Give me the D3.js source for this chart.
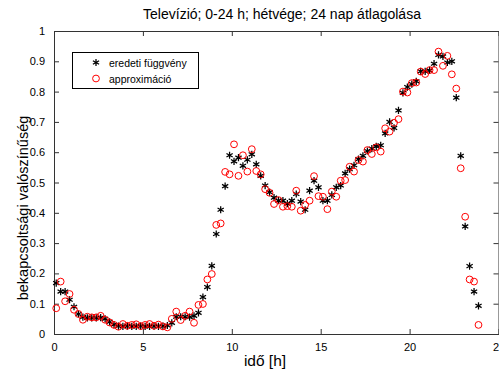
<!DOCTYPE html>
<html>
<head>
<meta charset="utf-8">
<script src="https://cdn.jsdelivr.net/npm/d3@7"></script>
<style>
  html, body { margin: 0; padding: 0; background: #fff; }
  text { font-family: "Liberation Sans", Arial, sans-serif; fill: #000; }
</style>
</head>
<body>
<div id="viz"></div>
<script>
// time of day [h] for each sample (15 min steps)
const hours = [
  0.125, 0.375, 0.625, 0.875, 1.125, 1.375, 1.625, 1.875, 2.125, 2.375, 2.625, 2.875,
  3.125, 3.375, 3.625, 3.875, 4.125, 4.375, 4.625, 4.875, 5.125, 5.375, 5.625, 5.875,
  6.125, 6.375, 6.625, 6.875, 7.125, 7.375, 7.625, 7.875, 8.125, 8.375, 8.625, 8.875,
  9.125, 9.375, 9.625, 9.875, 10.125, 10.375, 10.625, 10.875, 11.125, 11.375, 11.625, 11.875,
  12.125, 12.375, 12.625, 12.875, 13.125, 13.375, 13.625, 13.875, 14.125, 14.375, 14.625, 14.875,
  15.125, 15.375, 15.625, 15.875, 16.125, 16.375, 16.625, 16.875, 17.125, 17.375, 17.625, 17.875,
  18.125, 18.375, 18.625, 18.875, 19.125, 19.375, 19.625, 19.875, 20.125, 20.375, 20.625, 20.875,
  21.125, 21.375, 21.625, 21.875, 22.125, 22.375, 22.625, 22.875, 23.125, 23.375, 23.625, 23.875
];

// eredeti függvény (black asterisks)
const eredeti = [
  0.168, 0.14, 0.14, 0.113, 0.09, 0.066, 0.056, 0.053, 0.053, 0.053, 0.054, 0.05,
  0.04, 0.031, 0.026, 0.025, 0.026, 0.025, 0.025, 0.026, 0.025, 0.025, 0.026, 0.025,
  0.026, 0.028, 0.037, 0.057, 0.057, 0.057, 0.056, 0.06, 0.07, 0.122, 0.155, 0.225,
  0.33, 0.41, 0.488, 0.59, 0.57, 0.582, 0.555, 0.575, 0.593, 0.56, 0.522, 0.49,
  0.468, 0.45, 0.44, 0.44, 0.43, 0.44, 0.462, 0.437, 0.41, 0.473, 0.506, 0.484,
  0.44, 0.44, 0.459, 0.484, 0.49, 0.53, 0.544, 0.557, 0.577, 0.588, 0.604, 0.612,
  0.619, 0.623, 0.662, 0.70, 0.68, 0.738, 0.796, 0.815, 0.825, 0.834, 0.867, 0.867,
  0.87, 0.892, 0.921, 0.916, 0.896, 0.90, 0.78, 0.588, 0.355, 0.224, 0.14, 0.093
];

// approximáció (red circles)
const approx = [
  0.085, 0.173, 0.108, 0.132, 0.08, 0.066, 0.047, 0.057, 0.055, 0.055, 0.06, 0.047,
  0.038, 0.03, 0.024, 0.033, 0.027, 0.03, 0.032, 0.026, 0.03, 0.033, 0.027, 0.031,
  0.025, 0.022, 0.05, 0.074, 0.046, 0.06, 0.074, 0.037, 0.096, 0.099, 0.18, 0.198,
  0.36, 0.365, 0.535, 0.527, 0.626, 0.522, 0.59, 0.536, 0.61, 0.538, 0.527, 0.478,
  0.466, 0.429, 0.442, 0.42, 0.422, 0.42, 0.473, 0.407, 0.426, 0.44, 0.521, 0.455,
  0.453, 0.412, 0.47, 0.453, 0.506, 0.508, 0.552, 0.536, 0.574, 0.569, 0.607, 0.594,
  0.616, 0.602, 0.679, 0.668, 0.697, 0.709, 0.8, 0.797, 0.828, 0.83, 0.866, 0.858,
  0.871, 0.871, 0.932, 0.885, 0.918, 0.857, 0.81, 0.547, 0.387, 0.18, 0.173, 0.03
];

const xTicks = [0, 5, 10, 15, 20, 25];
const yTicks = [0, 0.1, 0.2, 0.3, 0.4, 0.5, 0.6, 0.7, 0.8, 0.9, 1];
const yTickLabels = ["0", "0.1", "0.2", "0.3", "0.4", "0.5", "0.6", "0.7", "0.8", "0.9", "1"];
const seriesNames = ["eredeti függvény", "approximáció"];

const width = 499;
const height = 371;
const plotLeft = 54, plotRight = 498.5, plotTop = 31, plotBottom = 334;

const svg = d3.select("#viz").append("svg")
    .attr("width", width)
    .attr("height", height);

const x = d3.scaleLinear().domain([0, 25]).range([plotLeft, plotRight]);
const y = d3.scaleLinear().domain([0, 1]).range([plotBottom, plotTop]);

const axisColor = "#333";

// axes with inward ticks, box on
const gx = svg.append("g")
    .attr("transform", `translate(0,${plotBottom})`)
    .call(d3.axisBottom(x).tickValues(xTicks).tickSizeInner(-5).tickSizeOuter(0).tickPadding(9));
const gxTop = svg.append("g")
    .attr("transform", `translate(0,${plotTop})`)
    .call(d3.axisTop(x).tickValues(xTicks).tickSizeInner(-5).tickSizeOuter(0).tickFormat(""));
const gy = svg.append("g")
    .attr("transform", `translate(${plotLeft},0)`)
    .call(d3.axisLeft(y).tickValues(yTicks).tickSizeInner(-5).tickSizeOuter(0).tickPadding(9)
        .tickFormat((d, i) => yTickLabels[i]));
const gyRight = svg.append("g")
    .attr("transform", `translate(${plotRight},0)`)
    .call(d3.axisRight(y).tickValues(yTicks).tickSizeInner(-5).tickSizeOuter(0).tickFormat(""));

[gx, gxTop, gy, gyRight].forEach(g => {
    g.selectAll(".domain").attr("stroke", axisColor);
    g.selectAll(".tick line").attr("stroke", axisColor);
    g.selectAll(".tick text")
        .attr("font-family", "Liberation Sans, Arial, sans-serif")
        .attr("font-size", 11)
        .attr("fill", "#222");
});

// data: black asterisks then red circles
const starSymbol = d3.symbol().type(d3.symbolAsterisk).size(36);

svg.append("g").selectAll("path")
    .data(hours)
    .enter()
    .append("path")
    .attr("d", starSymbol)
    .attr("transform", (d, i) => `translate(${x(d)},${y(eredeti[i])})`)
    .attr("fill", "none")
    .attr("stroke", "#000")
    .attr("stroke-width", 1.25);

svg.append("g").selectAll("circle")
    .data(hours)
    .enter()
    .append("circle")
    .attr("cx", d => x(d))
    .attr("cy", (d, i) => y(approx[i]))
    .attr("r", 3.4)
    .attr("fill", "none")
    .attr("stroke", "#ff0000")
    .attr("stroke-width", 1);

// legend
const legend = svg.append("g");
legend.append("rect")
    .attr("x", 72.5).attr("y", 52.5)
    .attr("width", 126).attr("height", 36)
    .attr("fill", "#fff")
    .attr("stroke", "#000");
legend.append("path")
    .attr("d", starSymbol)
    .attr("transform", "translate(96,62.5)")
    .attr("fill", "none")
    .attr("stroke", "#000")
    .attr("stroke-width", 1.25);
legend.append("circle")
    .attr("cx", 96).attr("cy", 78.5).attr("r", 3.4)
    .attr("fill", "none").attr("stroke", "#ff0000");
legend.selectAll("text.leg")
    .data(seriesNames)
    .enter()
    .append("text")
    .attr("class", "leg")
    .attr("x", 109)
    .attr("y", (d, i) => 66.5 + i * 16)
    .attr("font-size", 10.5)
    .text(d => d);

// title and labels
svg.append("text")
    .attr("x", 282)
    .attr("y", 19)
    .attr("text-anchor", "middle")
    .attr("font-size", 14)
    .text("Televízió; 0-24 h; hétvége; 24 nap átlagolása");

svg.append("text")
    .attr("x", 265)
    .attr("y", 366)
    .attr("text-anchor", "middle")
    .attr("font-size", 15.5)
    .text("idő [h]");

svg.append("text")
    .attr("transform", "translate(28,208) rotate(-90)")
    .attr("text-anchor", "middle")
    .attr("font-size", 14.5)
    .text("bekapcsoltsági valószínűség");
</script>
</body>
</html>
